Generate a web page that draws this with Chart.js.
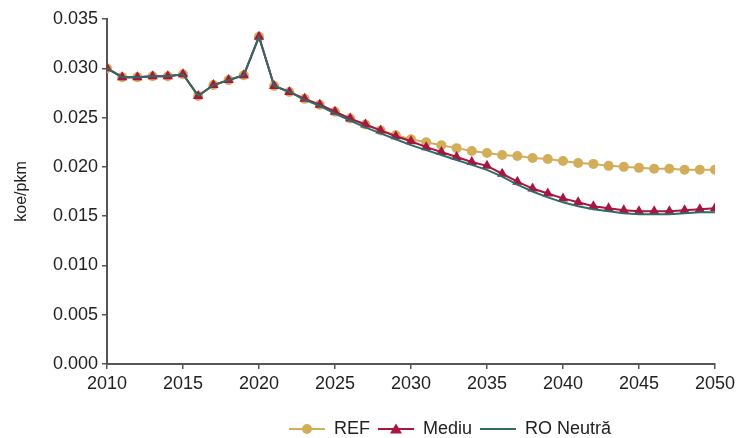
<!DOCTYPE html>
<html>
<head>
<meta charset="utf-8">
<script src="https://cdn.jsdelivr.net/npm/chart.js@4"></script>
<style>
    html, body { margin: 0; padding: 0; background: #fff; }
    #wrap { width: 739px; height: 438px; position: relative; }
</style>
</head>
<body>
<div id="wrap"><canvas id="grafic"></canvas></div>
<script>
// ===================== DATE =====================
const ANI = [2010, 2011, 2012, 2013, 2014, 2015, 2016, 2017, 2018, 2019,
             2020, 2021, 2022, 2023, 2024, 2025, 2026, 2027, 2028, 2029,
             2030, 2031, 2032, 2033, 2034, 2035, 2036, 2037, 2038, 2039,
             2040, 2041, 2042, 2043, 2044, 2045, 2046, 2047, 2048, 2049, 2050];

const REF = [0.0300, 0.0291, 0.0291, 0.0292, 0.0292, 0.0294, 0.0272, 0.0283, 0.0288, 0.0293,
             0.0332, 0.0282, 0.0276, 0.0269, 0.0263, 0.0256, 0.0249, 0.0243, 0.0237, 0.0232,
             0.0228, 0.0225, 0.0222, 0.0219, 0.0216, 0.0214, 0.0212, 0.0211, 0.0209, 0.0208,
             0.0206, 0.0204, 0.0203, 0.0201, 0.0200, 0.0199, 0.0198, 0.0198, 0.0197, 0.0197, 0.0197];

const MEDIU = [0.0300, 0.0291, 0.0291, 0.0292, 0.0292, 0.0294, 0.0272, 0.0283, 0.0288, 0.0293,
               0.0332, 0.0282, 0.0276, 0.0269, 0.0263, 0.0256, 0.0249, 0.0243, 0.0237, 0.0231,
               0.0226, 0.0220, 0.0215, 0.0210, 0.0205, 0.0201, 0.0193, 0.0185, 0.0178, 0.0173,
               0.0168, 0.0164, 0.0160, 0.0158, 0.0156, 0.0155, 0.0155, 0.0155, 0.0156, 0.0157, 0.0158];

const RO_NEUTRA = [0.0300, 0.0291, 0.0291, 0.0292, 0.0292, 0.0294, 0.0272, 0.0283, 0.0288, 0.0293,
                   0.0332, 0.0282, 0.0276, 0.0268, 0.0262, 0.0254, 0.0247, 0.0240, 0.0234, 0.0228,
                   0.0222, 0.0217, 0.0212, 0.0207, 0.0202, 0.0197, 0.0190, 0.0182, 0.0175, 0.0169,
                   0.0164, 0.0160, 0.0157, 0.0155, 0.0153, 0.0152, 0.0152, 0.0152, 0.0153, 0.0154, 0.0154];

const ETICHETE = ["REF", "Mediu", "RO Neutră"];
const TICKS_Y  = [0, 0.005, 0.010, 0.015, 0.020, 0.025, 0.030, 0.035];
const TICKS_X  = [2010, 2015, 2020, 2025, 2030, 2035, 2040, 2045, 2050];

// ===================== CULORI =====================
const COR_REF   = "#d2ad5a";
const COR_MEDIU = "#a8153f";
const COR_RO    = "#2f6b6b";
const COR_AXA   = "#555";
const COR_TEXT  = "#222";

const FONT = "'Liberation Sans', Arial, sans-serif";

function puncte(valori) {
    return ANI.map((an, i) => ({ x: an, y: valori[i] }));
}

// iconite legenda: linie + marker
function iconita(cul, marker) {
    const c = document.createElement("canvas");
    c.width = 36; c.height = 14;
    const g = c.getContext("2d");
    g.strokeStyle = cul;
    g.lineWidth = 2;
    g.beginPath(); g.moveTo(0, 7); g.lineTo(36, 7); g.stroke();
    g.fillStyle = cul;
    if (marker === "cerc") {
        g.beginPath(); g.arc(18, 7, 5, 0, Math.PI * 2); g.fill();
    } else if (marker === "triunghi") {
        g.beginPath(); g.moveTo(18, 1.5); g.lineTo(24, 11.5); g.lineTo(12, 11.5); g.closePath(); g.fill();
    }
    return c;
}

const ICONITE = [iconita(COR_REF, "cerc"), iconita(COR_MEDIU, "triunghi"), iconita(COR_RO, null)];

// legenda mutata spre dreapta si in jos ca in original
const mutaLegenda = {
    id: "mutaLegenda",
    afterLayout(chart) {
        const l = chart.legend;
        l.left  += 88;
        l.right += 88;
        l.top    += 10;
        l.bottom += 10;
    }
};

new Chart(document.getElementById("grafic"), {
    type: "line",
    data: {
        datasets: [
            {
                label: ETICHETE[0],
                data: puncte(REF),
                borderColor: COR_REF,
                backgroundColor: COR_REF,
                borderWidth: 2,
                pointStyle: "circle",
                pointRadius: 5,
                pointBorderWidth: 0,
                order: 2,
            },
            {
                label: ETICHETE[1],
                data: puncte(MEDIU),
                borderColor: COR_MEDIU,
                backgroundColor: COR_MEDIU,
                borderWidth: 2,
                pointStyle: "triangle",
                pointRadius: 6,
                pointBorderWidth: 0,
                order: 1,
            },
            {
                label: ETICHETE[2],
                data: puncte(RO_NEUTRA),
                borderColor: COR_RO,
                backgroundColor: COR_RO,
                borderWidth: 2,
                pointRadius: 0,
                order: 0,
            },
        ],
    },
    options: {
        responsive: true,
        maintainAspectRatio: false,
        animation: false,
        layout: { padding: { top: 19, right: 15, left: 0, bottom: 0 } },
        plugins: {
            tooltip: { enabled: false },
            legend: {
                position: "bottom",
                labels: {
                    usePointStyle: true,
                    pointStyleWidth: 36,
                    boxHeight: 14,
                    color: COR_TEXT,
                    font: { family: FONT, size: 18 },
                    padding: 8,
                    sort: (a, b) => a.datasetIndex - b.datasetIndex,
                    generateLabels: chart => chart.data.datasets.map((ds, i) => ({
                        text: ds.label,
                        pointStyle: ICONITE[i],
                        fillStyle: ds.borderColor,
                        strokeStyle: ds.borderColor,
                        lineWidth: 0,
                        fontColor: COR_TEXT,
                        datasetIndex: i,
                        hidden: false,
                    })),
                },
            },
        },
        scales: {
            x: {
                type: "linear",
                min: TICKS_X[0],
                max: TICKS_X[TICKS_X.length - 1],
                afterBuildTicks: s => { s.ticks = TICKS_X.map(v => ({ value: v })); },
                afterFit: s => { s.height = 38; },
                border: { color: COR_AXA, width: 2 },
                grid: { drawOnChartArea: false, drawTicks: true, tickLength: 5, color: COR_AXA, lineWidth: 1.5 },
                ticks: {
                    color: COR_TEXT,
                    font: { family: FONT, size: 18 },
                    padding: 4,
                    maxRotation: 0,
                    callback: v => String(v),
                },
            },
            y: {
                min: 0,
                max: 0.035,
                afterBuildTicks: s => { s.ticks = TICKS_Y.map(v => ({ value: v })); },
                afterFit: s => { s.width = 107; },
                border: { color: COR_AXA, width: 2 },
                grid: { drawOnChartArea: false, drawTicks: true, tickLength: 5, color: COR_AXA, lineWidth: 1.5 },
                title: {
                    display: true,
                    text: "koe/pkm",
                    color: COR_TEXT,
                    font: { family: FONT, size: 16 },
                    padding: { top: 12, bottom: 4 },
                },
                ticks: {
                    color: COR_TEXT,
                    font: { family: FONT, size: 18 },
                    padding: 4,
                    callback: v => Number(v).toFixed(3),
                },
            },
        },
    },
    plugins: [mutaLegenda],
});
</script>
</body>
</html>
